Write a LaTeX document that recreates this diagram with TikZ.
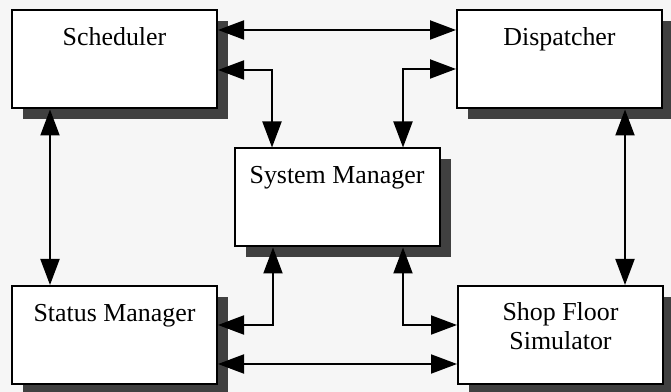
\documentclass[tikz,border=0pt]{standalone}
\usepackage{fontspec}
\setmainfont{Liberation Serif}
\usetikzlibrary{arrows, arrows.meta}
\usetikzlibrary{shadows}
\definecolor{paper}{gray}{0.965}

\begin{document}
\begin{tikzpicture}[x=0.5bp, y=-0.5bp, font=\fontsize{13}{15}\selectfont]
	\newcommand\boxW{102.5bp}
	\newcommand\boxH{49bp}
	\tikzset{
		box/.style={rectangle, draw=black, line width=1bp, fill=white, minimum width=\boxW, minimum height=\boxH,
			drop shadow={shadow xshift=5.5bp, shadow yshift=-5.5bp, fill=black!75, opacity=1}},
		lbl/.style={anchor=base, inner sep=0pt, align=center},
		link/.style={line width=1bp, {Triangle[length=13bp, width=9.5bp]}-{Triangle[length=13bp, width=9.5bp]}}
	}
	\fill[paper] (0,0) rectangle (671,392);
	\useasboundingbox (0,0) rectangle (671,392);
	% boxes
	\node[box] (sched) at (114.5,59.5) {};
	\node[box] (disp)  at (559.5,59.5) {};
	\node[box] (sysm)  at (337,197.5)  {};
	\node[box] (stat)  at (114.5,335)  {};
	\node[box] (shop)  at (560.5,335)  {};
	\node[lbl] (schedTxt) at (114.5,46) {Scheduler};
	\node[lbl] (dispTxt)  at (559.5,46) {Dispatcher};
	\node[lbl] (sysmTxt)  at (337,184)  {System Manager};
	\node[lbl] (statTxt)  at (114.5,322) {Status Manager};
	\node[lbl] (shopTxt)  at (560.5,350) {Shop Floor\\Simulator};
	% links
	\draw[link] (sched.east |- 0,30) -- (disp.west |- 0,30);
	\draw[link] (sched.east |- 0,70) -| (272,0 |- sysm.north);
	\draw[link] (disp.west |- 0,69) -| (403,0 |- sysm.north);
	\draw[link] (disp.south -| 625,0) -- (shop.north -| 625,0);
	\draw[link] (sched.south -| 50,0) -- (stat.north -| 50,0);
	\draw[link] (273,0 |- sysm.south) |- (stat.east |- 0,325);
	\draw[link] (403,0 |- sysm.south) |- (shop.west |- 0,325);
	\draw[link] (stat.east |- 0,364) -- (shop.west |- 0,364);
\end{tikzpicture}
\end{document}
